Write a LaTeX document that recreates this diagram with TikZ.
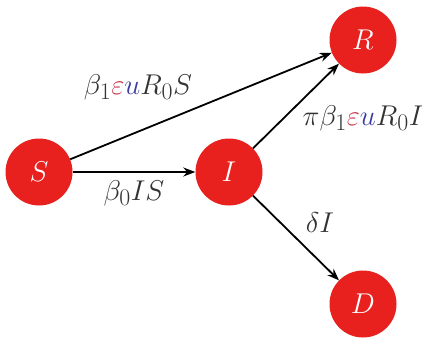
\documentclass[tikz,border=0pt]{standalone}
\usepackage{graphicx}
\usetikzlibrary{arrows.meta}
\definecolor{nodered}{RGB}{232,32,30}
\definecolor{epsred}{RGB}{200,50,70}
\definecolor{ublue}{RGB}{60,60,160}
\newcommand{\mylabeltext}[1]{\scalebox{1.15}{\fontsize{24.88}{30}\selectfont$#1$}}
\begin{document}
\begin{tikzpicture}[x=1pt,y=-1pt,
  state/.style={circle,fill=nodered,minimum size=67pt,inner sep=0pt,text=white},
  lab/.style={text=black!80},
  flow/.style={-{Stealth[length=12pt,width=9pt]},line width=1.8pt}]
\useasboundingbox (0,0) rectangle (422,343);
\node[state] (S) at (39,172) {\mylabeltext{S}};
\node[state] (I) at (229,172) {\mylabeltext{I}};
\node[state] (R) at (363,40) {\mylabeltext{R}};
\node[state] (D) at (363,304) {\mylabeltext{D}};
\draw[flow] (S) -- (I);
\draw[flow] (S) -- (R);
\draw[flow] (I) -- (R);
\draw[flow] (I) -- (D);
\node[lab] (l1) at (138,87) {\mylabeltext{\beta_1{\color{epsred}\varepsilon}{\color{ublue}u}R_0S}};
\node[lab] (l2) at (363,118) {\mylabeltext{\pi\beta_1{\color{epsred}\varepsilon}{\color{ublue}u}R_0I}};
\node[lab] (l3) at (134,193) {\mylabeltext{\beta_0IS}};
\node[lab] (l4) at (320,223) {\mylabeltext{\delta I}};
\end{tikzpicture}
\end{document}
